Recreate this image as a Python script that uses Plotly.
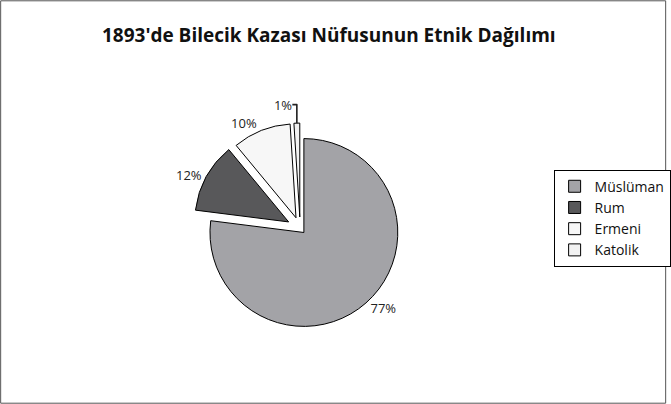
import plotly.graph_objects as go

categories = ["Müslüman", "Rum", "Ermeni", "Katolik"]
values = [77, 12, 10, 1]
colors = ["#a3a3a7", "#58585a", "#f7f7f7", "#f2f2f2"]
pulls = [0.06, 0.14, 0.12, 0.12]

fig = go.Figure(go.Pie(
    labels=categories,
    values=values,
    sort=False,
    direction="clockwise",
    rotation=0,
    pull=pulls,
    marker=dict(colors=colors, line=dict(color="#000000", width=1)),
    textinfo="percent",
    textposition="outside",
    texttemplate="%{percent:.0%}",
    textfont=dict(family="Open Sans", size=13, color="#222222"),
    domain=dict(x=[0.27, 0.63], y=[0.17, 0.70]),
    hoverinfo="label+percent",
))

fig.update_layout(
    width=671, height=404,
    margin=dict(l=0, r=0, t=0, b=0),
    paper_bgcolor="#ffffff",
    plot_bgcolor="#ffffff",
    title=dict(
        text="<b>1893'de Bilecik Kazası Nüfusunun Etnik Dağılımı</b>",
        x=0.49, xanchor="center", y=0.913, yanchor="middle",
        font=dict(family="Open Sans", size=19, color="#111111"),
    ),
    legend=dict(
        x=0.83, xanchor="left", y=0.58, yanchor="top",
        bordercolor="#000000", borderwidth=1,
        font=dict(family="Open Sans", size=14, color="#111111"),
        itemwidth=30,
    ),
    shapes=[dict(type="rect", xref="paper", yref="paper",
                 x0=0.001, x1=0.998, y0=0.002, y1=0.998,
                 line=dict(color="#555555", width=1))],
)

fig.write_html("out.html", config={"displayModeBar": False},
               post_script="document.body.style.margin='0px';")
